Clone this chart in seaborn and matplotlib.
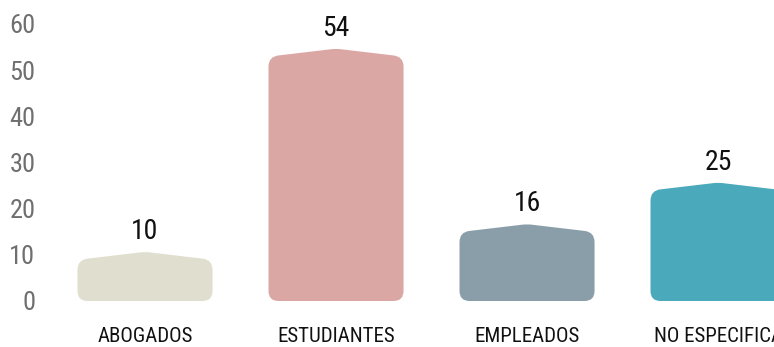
import numpy as np
import pandas as pd
import seaborn as sns
import matplotlib
matplotlib.use("Agg")
import matplotlib.pyplot as plt
from matplotlib.path import Path
from matplotlib.patches import PathPatch
from matplotlib import font_manager as fm

# Data
categories = ["ABOGADOS", "ESTUDIANTES", "EMPLEADOS", "NO ESPECIFICA"]
counts = [10, 54, 16, 25]
bar_colors = ["#e0dfcf", "#dba7a4", "#8a9eaa", "#4aa9ba"]
y_ticks = [0, 10, 20, 30, 40, 50, 60]

df = pd.DataFrame({"grupo": categories, "n": counts})

sns.set_theme(style="white")

# Narrow sans-serif for all text
installed = {f.name for f in fm.fontManager.ttflist}
narrow = next((n for n in ["Roboto Condensed", "Liberation Sans Narrow",
                           "Open Sans Condensed", "DejaVu Sans"] if n in installed),
              "DejaVu Sans")
plt.rcParams["font.family"] = [narrow, "DejaVu Sans"]
plt.rcParams["font.stretch"] = "condensed"

W, H, DPI = 774, 347, 100
fig = plt.figure(figsize=(W / DPI, H / DPI), dpi=DPI)
fig.patch.set_facecolor("white")

# axes box in pixels
ax_left, ax_right = 45, 774
ax_bottom_from_top, ax_top_from_top = 301, 14.7
ax = fig.add_axes([ax_left / W, (H - ax_bottom_from_top) / H,
                   (ax_right - ax_left) / W,
                   (ax_bottom_from_top - ax_top_from_top) / H])

sns.barplot(data=df, x="grupo", y="n", hue="grupo", palette=bar_colors,
            saturation=1, width=0.707, legend=False, ax=ax)

xlim = (-0.5236, 3.293)
ylim = (0, 62)
ax.set_xlim(*xlim)
ax.set_ylim(*ylim)

# pixel scale of the data axes
px_x = (ax_right - ax_left) / (xlim[1] - xlim[0])
px_y = (ax_bottom_from_top - ax_top_from_top) / (ylim[1] - ylim[0])


def rounded_path(pts, radii):
    """Closed path through pts with each corner rounded by a quadratic curve."""
    pts = [np.asarray(p, float) for p in pts]
    n = len(pts)
    verts, codes = [], []
    for i in range(n):
        v = pts[i]
        a = pts[i - 1]
        b = pts[(i + 1) % n]
        r = radii[i]
        da = (a - v) / np.hypot(*(a - v))
        db = (b - v) / np.hypot(*(b - v))
        p_in = v + r * da
        p_out = v + r * db
        verts.append(p_in)
        codes.append(Path.MOVETO if i == 0 else Path.LINETO)
        verts += [v, p_out]
        codes += [Path.CURVE3, Path.CURVE3]
    verts.append(verts[0])
    codes.append(Path.CLOSEPOLY)
    return verts, codes


# Replace each rectangle with a house-shaped, rounded bar of the same value
for patch in list(ax.patches):
    x0 = patch.get_x()
    w = patch.get_width()
    h = patch.get_height()
    color = patch.get_facecolor()
    patch.set_visible(False)

    half_px = w * px_x / 2
    h_px = h * px_y
    peak_px = h_px + 3
    shoulder_px = h_px - 5
    pts_px = [(-half_px, 0), (half_px, 0), (half_px, shoulder_px),
              (0, peak_px), (-half_px, shoulder_px)]
    radii = [10, 10, 10, 5, 10]
    verts_px, codes = rounded_path(pts_px, radii)
    xc = x0 + w / 2
    verts = [(xc + vx / px_x, vy / px_y) for vx, vy in verts_px]
    ax.add_patch(PathPatch(Path(verts, codes), facecolor=color,
                           edgecolor="none", clip_on=True))

    ax.annotate(f"{h:g}", xy=(xc, h), xytext=(0, 11.5),
                textcoords="offset points", ha="center", va="baseline",
                fontsize=20, color="#111111", annotation_clip=False)

ax.set_yticks(y_ticks)
ax.set_yticklabels([str(t) for t in y_ticks])
ax.tick_params(axis="y", length=0, pad=7, labelsize=19, labelcolor="#6f6f6f")
ax.tick_params(axis="x", length=0, pad=19, labelsize=15, labelcolor="#111111")
ax.set_xlabel("")
ax.set_ylabel("")
for s in ax.spines.values():
    s.set_visible(False)
ax.grid(False)

fig.savefig("out.png", dpi=DPI, facecolor="white")
